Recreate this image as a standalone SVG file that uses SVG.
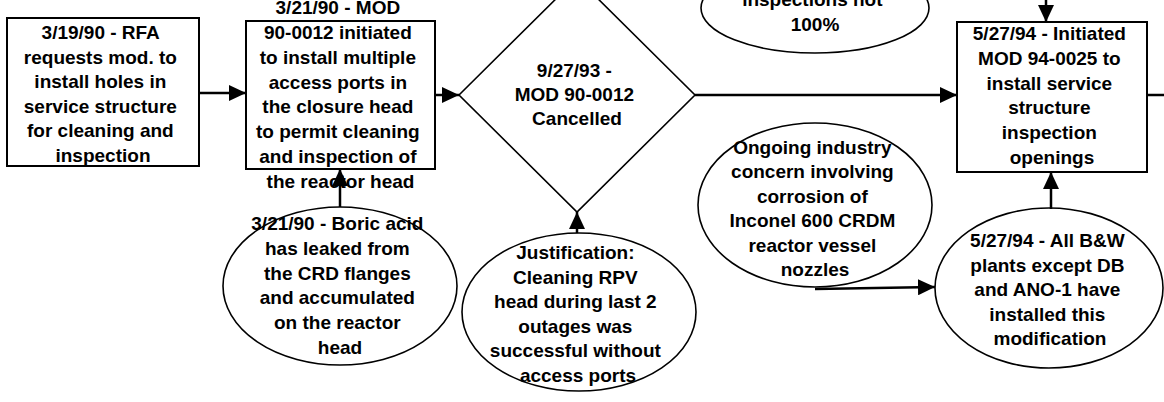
<svg xmlns="http://www.w3.org/2000/svg" width="1164" height="402" viewBox="0 0 1164 402">
  <style>
    .box { fill: none; stroke: #000; stroke-width: 2; }
    .oval { fill: none; stroke: #000; stroke-width: 1.6; }
    .lbl { font-family: "Liberation Sans", Arial, sans-serif; font-size: 19px; font-weight: bold; fill: #000; text-anchor: middle; }
    .link { fill: none; stroke: #000; stroke-width: 2.5; }
  </style>
  <defs>
    <marker id="arrow" markerUnits="userSpaceOnUse" markerWidth="18" markerHeight="16" refX="17" refY="8" orient="auto">
      <path d="M0,0 L17,8 L0,16 z" fill="#000"/>
    </marker>
  </defs>
  <rect width="1164" height="402" fill="#fff"/>

  <!-- Request for modification -->
  <g id="rfa-request">
    <rect class="box" x="7" y="18" width="192" height="148"/>
    <text class="lbl" x="103" y="39">
      <tspan x="103">3/19/90 - RFA</tspan>
      <tspan x="103" dy="24.6">requests mod. to</tspan>
      <tspan x="103" dy="24.6">install holes in</tspan>
      <tspan x="103" dy="24.6">service structure</tspan>
      <tspan x="103" dy="24.6">for cleaning and</tspan>
      <tspan x="103" dy="24.6">inspection</tspan>
    </text>
  </g>

  <!-- MOD 90-0012 initiated -->
  <g id="mod-90-0012">
    <rect class="box" x="246" y="21" width="189" height="148"/>
    <text class="lbl" x="340.5" y="14">
      <tspan x="340.5">3/21/90 - MOD</tspan>
      <tspan x="340.5" dy="24.85">90-0012 initiated</tspan>
      <tspan x="340.5" dy="24.85">to install multiple</tspan>
      <tspan x="340.5" dy="24.85">access ports in</tspan>
      <tspan x="340.5" dy="24.85">the closure head</tspan>
      <tspan x="340.5" dy="24.85">to permit cleaning</tspan>
      <tspan x="340.5" dy="24.85">and inspection of</tspan>
      <tspan x="340.5" dy="24.85">the reactor head</tspan>
    </text>
  </g>

  <!-- Cancellation decision -->
  <g id="mod-cancelled">
    <polygon class="oval" points="459,95 577,-22 695,95 577,212"/>
    <text class="lbl" x="577" y="77">
      <tspan x="577">9/27/93 -</tspan>
      <tspan x="577" dy="24">MOD 90-0012</tspan>
      <tspan x="577" dy="24">Cancelled</tspan>
    </text>
  </g>

  <!-- MOD 94-0025 initiated -->
  <g id="mod-94-0025">
    <rect class="box" x="957" y="22" width="190" height="150"/>
    <text class="lbl" x="1052" y="40">
      <tspan x="1052">5/27/94 - Initiated</tspan>
      <tspan x="1052" dy="24.8">MOD 94-0025 to</tspan>
      <tspan x="1052" dy="24.8">install service</tspan>
      <tspan x="1052" dy="24.8">structure</tspan>
      <tspan x="1052" dy="24.8">inspection</tspan>
      <tspan x="1052" dy="24.8">openings</tspan>
    </text>
  </g>

  <!-- Inspections note (top) -->
  <g id="inspections-note">
    <ellipse class="oval" cx="815" cy="8" rx="114" ry="45"/>
    <text class="lbl" x="815" y="6">
      <tspan x="815">inspections not</tspan>
      <tspan x="815" dy="25">100%</tspan>
    </text>
  </g>

  <!-- Boric acid leakage -->
  <g id="boric-acid">
    <ellipse class="oval" cx="340" cy="286" rx="117" ry="79"/>
    <text class="lbl" x="340" y="230">
      <tspan x="340">3/21/90 - Boric acid</tspan>
      <tspan x="340" dy="24.8">has leaked from</tspan>
      <tspan x="340" dy="24.8">the CRD flanges</tspan>
      <tspan x="340" dy="24.8">and accumulated</tspan>
      <tspan x="340" dy="24.8">on the reactor</tspan>
      <tspan x="340" dy="24.8">head</tspan>
    </text>
  </g>

  <!-- Justification -->
  <g id="justification">
    <ellipse class="oval" cx="579" cy="312" rx="117" ry="79"/>
    <text class="lbl" x="578" y="259">
      <tspan x="578">Justification:</tspan>
      <tspan x="578" dy="24.6">Cleaning RPV</tspan>
      <tspan x="578" dy="24.6">head during last 2</tspan>
      <tspan x="578" dy="24.6">outages was</tspan>
      <tspan x="578" dy="24.6">successful without</tspan>
      <tspan x="578" dy="24.6">access ports</tspan>
    </text>
  </g>

  <!-- Industry concern -->
  <g id="industry-concern">
    <ellipse class="oval" cx="815" cy="205" rx="117" ry="82"/>
    <text class="lbl" x="815" y="154">
      <tspan x="815">Ongoing industry</tspan>
      <tspan x="815" dy="24.4">concern involving</tspan>
      <tspan x="815" dy="24.4">corrosion of</tspan>
      <tspan x="815" dy="24.4">Inconel 600 CRDM</tspan>
      <tspan x="815" dy="24.4">reactor vessel</tspan>
      <tspan x="815" dy="24.4">nozzles</tspan>
    </text>
  </g>

  <!-- B&W plants status -->
  <g id="bw-plants">
    <ellipse class="oval" cx="1049" cy="288" rx="114" ry="80"/>
    <text class="lbl" x="1050" y="247">
      <tspan x="1050">5/27/94 - All B&amp;W</tspan>
      <tspan x="1050" dy="24.5">plants except DB</tspan>
      <tspan x="1050" dy="24.5">and ANO-1 have</tspan>
      <tspan x="1050" dy="24.5">installed this</tspan>
      <tspan x="1050" dy="24.5">modification</tspan>
    </text>
  </g>

  <!-- Connectors -->
  <g id="connectors">
    <line class="link" x1="199" y1="93" x2="246" y2="93" marker-end="url(#arrow)"/>
    <line class="link" x1="435" y1="95" x2="459" y2="95" marker-end="url(#arrow)"/>
    <line class="link" x1="695" y1="95" x2="957" y2="95" marker-end="url(#arrow)"/>
    <line class="link" x1="1147" y1="95" x2="1164" y2="95"/>
    <line class="link" x1="1046" y1="0" x2="1046" y2="22" marker-end="url(#arrow)"/>
    <line class="link" x1="340" y1="207" x2="340" y2="169" marker-end="url(#arrow)"/>
    <line class="link" x1="577" y1="233" x2="577" y2="212" marker-end="url(#arrow)"/>
    <line class="link" x1="815" y1="289" x2="935" y2="287" marker-end="url(#arrow)"/>
    <line class="link" x1="1051" y1="209" x2="1051" y2="172" marker-end="url(#arrow)"/>
  </g>
</svg>
